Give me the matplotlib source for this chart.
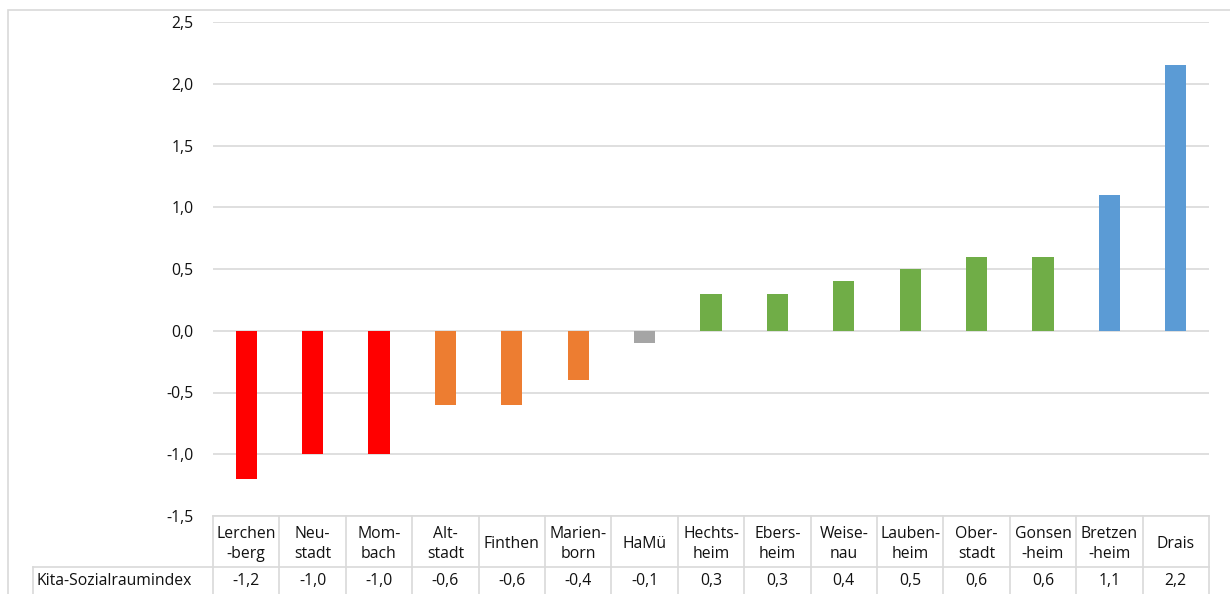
import matplotlib.pyplot as plt
from matplotlib.lines import Line2D
from matplotlib.patches import Rectangle

districts = ["Lerchen\n-berg", "Neu-\nstadt", "Mom-\nbach", "Alt-\nstadt", "Finthen",
             "Marien-\nborn", "HaMü", "Hechts-\nheim", "Ebers-\nheim", "Weise-\nnau",
             "Lauben-\nheim", "Ober-\nstadt", "Gonsen\n-heim", "Bretzen\n-heim", "Drais"]
index_values = [-1.2, -1.0, -1.0, -0.6, -0.6, -0.4, -0.1, 0.3, 0.3, 0.4, 0.5, 0.6, 0.6, 1.1, 2.15]
table_labels = ["-1,2", "-1,0", "-1,0", "-0,6", "-0,6", "-0,4", "-0,1", "0,3", "0,3", "0,4",
                "0,5", "0,6", "0,6", "1,1", "2,2"]
bar_colors = ["#FF0000"] * 3 + ["#ED7D31"] * 3 + ["#A5A5A5"] + ["#70AD47"] * 6 + ["#5B9BD5"] * 2
row_label = "Kita-Sozialraumindex"
y_ticks = [-1.5, -1.0, -0.5, 0.0, 0.5, 1.0, 1.5, 2.0, 2.5]

plt.rcParams["font.family"] = ["Open Sans", "DejaVu Sans"]
W, H = 1230, 594
fs = 11.3
tc = "#111111"
fig = plt.figure(figsize=(W / 100, H / 100), dpi=100)

# chart area border (Excel style)
fig.add_artist(Rectangle((8 / W, -0.05), 1.2, (H - 10) / H + 0.05, transform=fig.transFigure,
                         fill=False, edgecolor="#D9D9D9", linewidth=1.2))

left, right, top, bottom = 213, 1209, 22, 516
ax = fig.add_axes([left / W, (H - bottom) / H, (right - left) / W, (bottom - top) / H])
x = range(len(index_values))
ax.bar(x, index_values, width=0.32, color=bar_colors, zorder=3)
ax.set_xlim(-0.5, len(index_values) - 0.5)
ax.set_ylim(-1.5, 2.5)
ax.set_yticks(y_ticks)
ax.set_yticklabels([f"{v:.1f}".replace(".", ",") for v in y_ticks], fontsize=fs, color=tc)
ax.tick_params(axis="y", length=0, pad=14)
ax.set_xticks([])
ax.grid(axis="y", color="#D9D9D9", linewidth=1.2, zorder=0)
for s in ax.spines.values():
    s.set_visible(False)

# data table below the plot
lc = "#D9D9D9"


def fy(py):
    return (H - py) / H


row1, row2, row3 = 516, 567, 600
n = len(index_values)
for i in range(n + 1):
    xf = (left + i * (right - left) / n) / W
    fig.add_artist(Line2D([xf, xf], [fy(row1), fy(row3)], color=lc, lw=1.2))
fig.add_artist(Line2D([33 / W, 33 / W], [fy(row2), fy(row3)], color=lc, lw=1.2))
fig.add_artist(Line2D([33 / W, right / W], [fy(row2), fy(row2)], color=lc, lw=1.2))
fig.add_artist(Line2D([left / W, right / W], [fy(row1), fy(row1)], color=lc, lw=1.2))

for i, (name, lab) in enumerate(zip(districts, table_labels)):
    xf = (left + (i + 0.5) * (right - left) / n) / W
    fig.text(xf, fy((row1 + row2) / 2 + 2.5), name, ha="center", va="center",
             fontsize=fs, color=tc, linespacing=1.32)
    fig.text(xf, fy(581), lab, ha="center", va="center", fontsize=fs, color=tc)
fig.text(37 / W, fy(581), row_label, ha="left", va="center", fontsize=fs, color=tc)

fig.savefig("out.png", dpi=100)
